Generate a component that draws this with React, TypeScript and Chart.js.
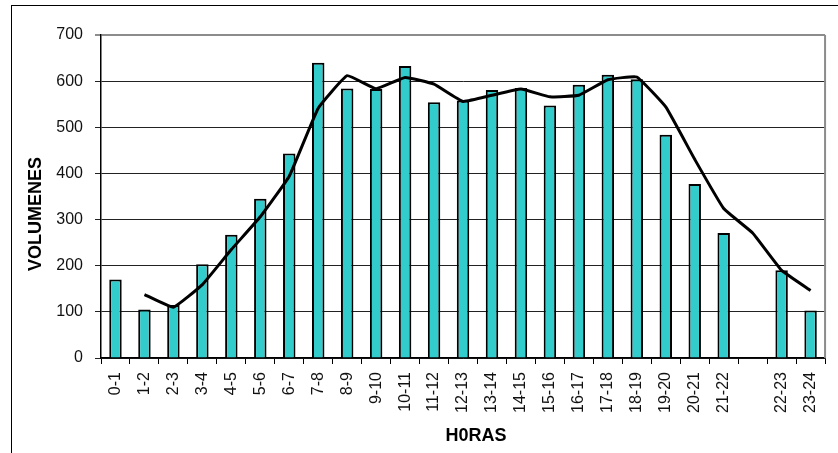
import React, { useEffect, useRef } from 'react';
import { Chart, registerables } from 'chart.js';

Chart.register(...registerables);

const categories = [
  '0-1', '1-2', '2-3', '3-4', '4-5', '5-6', '6-7', '7-8', '8-9', '9-10',
  '10-11', '11-12', '12-13', '13-14', '14-15', '15-16', '16-17', '17-18',
  '18-19', '19-20', '20-21', '21-22', '', '22-23', '23-24',
];

const volumes = [
  170, 105, 115, 203, 267, 345, 443, 640, 584, 583,
  633, 554, 558, 581, 585, 547, 592, 614,
  604, 484, 377, 271, null, 190, 103,
];

const trend = [
  null, 137.5, 110, 159, 235, 306, 394, 541.5, 612, 583.5,
  608, 593.5, 556, 569.5, 583, 566, 569.5, 603,
  609, 544, 430.5, 324, 271, 190, 146.5,
];

const yMin = 0;
const yMax = 700;
const yStep = 100;

const xTitle = 'H0RAS';
const yTitle = 'VOLUMENES';

const FONT = '"Liberation Sans", Arial, Helvetica, sans-serif';

export default function App() {
  const ref = useRef<HTMLCanvasElement>(null);

  useEffect(() => {
    if (!ref.current) return;

    const decor = {
      id: 'decor',
      beforeDatasetsDraw(chart: any) {
        const { ctx, chartArea } = chart;
        ctx.save();
        ctx.strokeStyle = '#8c8c8c';
        ctx.lineWidth = 2;
        ctx.beginPath();
        ctx.moveTo(chartArea.right, chartArea.top);
        ctx.lineTo(chartArea.right, chartArea.bottom);
        ctx.stroke();
        ctx.restore();
      },
      afterDraw(chart: any) {
        const { ctx } = chart;
        ctx.save();
        ctx.font = 'bold 18px ' + FONT;
        ctx.fillStyle = '#000';
        ctx.textAlign = 'center';
        ctx.textBaseline = 'middle';
        ctx.fillText(xTitle, 476, 436);
        ctx.translate(36, 214);
        ctx.rotate(-Math.PI / 2);
        ctx.fillText(yTitle, 0, 0);
        ctx.restore();
      },
    };

    const chart = new Chart(ref.current, {
      type: 'bar',
      data: {
        labels: categories,
        datasets: [
          {
            type: 'line',
            data: trend as any,
            borderColor: '#000',
            borderWidth: 3,
            pointRadius: 0,
            tension: 0.1,
            fill: false,
            spanGaps: false,
            order: 0,
          },
          {
            type: 'bar',
            data: volumes as any,
            backgroundColor: '#33CCCC',
            borderColor: '#000',
            borderWidth: 2,
            barPercentage: 0.43,
            categoryPercentage: 1,
            order: 1,
          },
        ],
      },
      options: {
        animation: false,
        responsive: false,
        maintainAspectRatio: false,
        layout: { padding: { top: 35, right: 11, left: 0, bottom: 0 } },
        plugins: {
          legend: { display: false },
          tooltip: { enabled: false },
        },
        scales: {
          x: {
            offset: true,
            grid: {
              offset: true,
              drawOnChartArea: false,
              drawTicks: true,
              tickLength: 6,
              color: '#000',
              lineWidth: 1,
            },
            border: { color: '#000', width: 1.5 },
            ticks: {
              autoSkip: false,
              maxRotation: 90,
              minRotation: 90,
              padding: 8,
              color: '#111',
              font: { family: FONT, size: 16 },
            },
            afterFit: (s: any) => {
              s.height = 95;
            },
          },
          y: {
            min: yMin,
            max: yMax,
            ticks: {
              stepSize: yStep,
              padding: 12,
              color: '#111',
              font: { family: FONT, size: 16 },
            },
            grid: {
              color: (c: any) => (c.tick && c.tick.value === yMax ? '#8c8c8c' : '#222'),
              lineWidth: (c: any) => (c.tick && c.tick.value === yMax ? 2 : 1),
              tickLength: 6,
            },
            border: { color: '#000', width: 1.5 },
            afterFit: (s: any) => {
              s.width = 101;
            },
          },
        },
      },
      plugins: [decor],
    });

    return () => chart.destroy();
  }, []);

  return (
    <div
      style={{
        position: 'fixed',
        left: 0,
        top: 0,
        width: 838,
        height: 453,
        overflow: 'hidden',
        background: '#fff',
      }}
    >
      <div
        style={{
          position: 'absolute',
          left: 11,
          top: 5,
          width: 900,
          height: 500,
          borderLeft: '1px solid #000',
          borderTop: '1px solid #000',
        }}
      />
      <canvas
        ref={ref}
        width={838}
        height={453}
        style={{ position: 'absolute', left: 0, top: 0, display: 'block' }}
      />
    </div>
  );
}
